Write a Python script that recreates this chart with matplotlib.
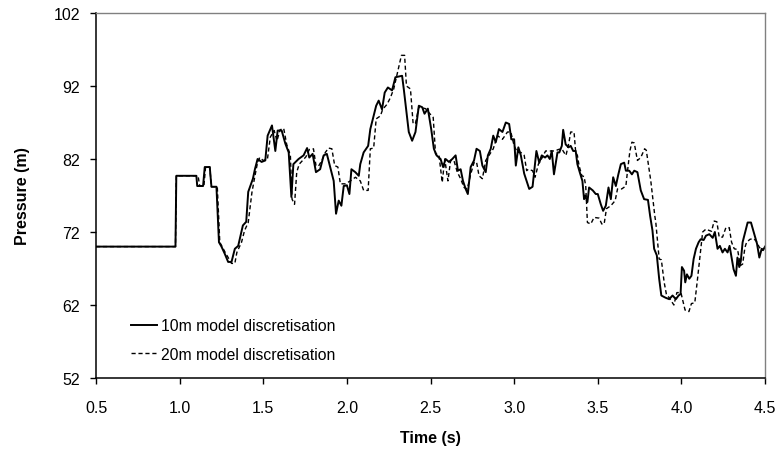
import matplotlib
matplotlib.use('Agg')
import matplotlib.pyplot as plt

plt.rcParams['font.family'] = ['Liberation Sans', 'DejaVu Sans']

# 10m model discretisation (solid)
t10 = [0.5, 0.975, 0.98, 1.10, 1.105, 1.14, 1.15, 1.18, 1.19, 1.22, 1.235, 1.25, 1.27, 1.29, 1.31,
       1.33, 1.35, 1.378, 1.398, 1.41, 1.438, 1.45, 1.466, 1.49, 1.512, 1.526, 1.552, 1.572, 1.586,
       1.61, 1.632, 1.652, 1.668, 1.68, 1.711, 1.741, 1.762, 1.775, 1.795, 1.815, 1.84, 1.861, 1.88,
       1.90, 1.921, 1.935, 1.951, 1.967, 1.981, 2.00, 2.015, 2.027, 2.05, 2.071, 2.08, 2.10, 2.127,
       2.14, 2.16, 2.175, 2.19, 2.21, 2.226, 2.245, 2.27, 2.29, 2.33, 2.34, 2.356, 2.37, 2.39, 2.41,
       2.43, 2.45, 2.464, 2.484, 2.504, 2.52, 2.536, 2.56, 2.575, 2.59, 2.61, 2.63, 2.65, 2.664, 2.68,
       2.694, 2.71, 2.723, 2.74, 2.76, 2.775, 2.795, 2.81, 2.83, 2.843, 2.86, 2.875, 2.89, 2.909, 2.93,
       2.95, 2.97, 2.983, 3.0, 3.01, 3.025, 3.04, 3.06, 3.09, 3.11, 3.118, 3.133, 3.15, 3.165, 3.185,
       3.199, 3.213, 3.225, 3.238, 3.259, 3.27, 3.285, 3.293, 3.308, 3.325, 3.338, 3.353, 3.368, 3.378,
       3.392, 3.408, 3.418, 3.425, 3.438, 3.448, 3.47, 3.488, 3.5, 3.518, 3.532, 3.548, 3.564, 3.578,
       3.592, 3.608, 3.623, 3.638, 3.658, 3.668, 3.688, 3.704, 3.718, 3.737, 3.757, 3.777, 3.80, 3.813,
       3.827, 3.837, 3.853, 3.867, 3.88, 3.905, 3.927, 3.947, 3.967, 3.983, 3.995, 4.003, 4.016, 4.023,
       4.033, 4.047, 4.06, 4.073, 4.087, 4.103, 4.115, 4.133, 4.147, 4.167, 4.187, 4.20, 4.216, 4.23,
       4.246, 4.26, 4.276, 4.288, 4.30, 4.312, 4.326, 4.335, 4.346, 4.355, 4.366, 4.386, 4.396, 4.416,
       4.432, 4.452, 4.466, 4.48, 4.488, 4.5]
p10 = [70.0, 70.0, 79.7, 79.7, 78.3, 78.3, 80.9, 80.9, 78.2, 78.2, 70.6, 70.0, 69.0, 67.9, 67.9,
       69.7, 70.1, 72.9, 73.4, 77.5, 79.3, 80.6, 82.0, 81.6, 81.8, 85.2, 86.6, 83.1, 85.9,
       85.9, 84.1, 82.9, 76.8, 81.3, 82.0, 82.5, 83.5, 82.2, 82.7, 80.2, 80.6, 82.5, 82.7,
       80.9, 79.0, 74.5, 76.3, 75.6, 78.3, 78.4, 77.2, 80.6, 80.2, 79.7, 81.3, 82.9, 83.8,
       86.1, 87.9, 89.3, 90.0, 88.8, 91.1, 91.8, 91.4, 93.2, 93.4, 91.6, 88.4, 85.7, 84.5, 85.7,
       89.3, 89.1, 88.2, 88.9, 86.1, 83.4, 82.5, 82.0, 80.9, 82.0, 81.6, 82.0, 82.5, 80.4, 80.6,
       79.0, 77.9, 77.2, 80.9, 81.8, 83.4, 83.1, 81.1, 80.2, 82.5, 83.4, 85.2, 84.3, 86.1, 85.7,
       87.0, 86.8, 84.7, 84.7, 81.1, 83.6, 82.5, 80.0, 77.9, 78.2, 79.9, 83.1, 81.5, 82.5, 82.2,
       82.5, 82.0, 83.1, 79.9, 82.9, 82.9, 83.8, 86.0, 84.0, 83.6, 83.8, 83.1, 83.1, 81.3,
       80.2, 79.0, 76.5, 77.0, 76.1, 78.1, 77.7, 77.2, 77.2, 75.8, 74.9, 75.6, 78.1, 76.5,
       79.5, 78.3, 79.9, 81.3, 81.5, 80.4, 80.4, 79.9, 80.4, 80.2, 77.7, 76.5, 76.4, 74.2,
       72.2, 69.7, 68.8, 65.6, 63.3, 63.0, 62.8, 63.3, 62.8, 63.3, 63.5, 67.2, 66.7, 65.1,
       66.2, 65.6, 66.0, 68.3, 69.7, 70.6, 71.0, 70.9, 71.5, 71.7, 71.2, 72.0, 69.7, 70.1,
       69.2, 69.7, 69.2, 70.1, 68.5, 66.9, 66.0, 68.5, 67.2, 68.0, 70.6, 72.4, 73.3, 73.3,
       72.0, 70.4, 68.5, 69.7, 69.5, 70.0]

# 20m model discretisation (dashed)
t20 = [0.5, 0.975, 0.98, 1.11, 1.12, 1.145, 1.155, 1.18, 1.19, 1.225, 1.24, 1.27, 1.31, 1.33,
       1.342, 1.37, 1.388, 1.41, 1.432, 1.447, 1.462, 1.478, 1.50, 1.525, 1.542, 1.565, 1.582,
       1.60, 1.622, 1.64, 1.662, 1.672, 1.687, 1.70, 1.715, 1.735, 1.755, 1.775, 1.80, 1.815,
       1.83, 1.85, 1.871, 1.89, 1.91, 1.927, 1.946, 1.961, 1.99, 2.021, 2.051, 2.08, 2.10, 2.127,
       2.14, 2.16, 2.175, 2.20, 2.214, 2.24, 2.26, 2.28, 2.296, 2.31, 2.326, 2.345, 2.356, 2.38,
       2.396, 2.41, 2.43, 2.47, 2.496, 2.516, 2.53, 2.55, 2.57, 2.585, 2.604, 2.62, 2.64, 2.66,
       2.68, 2.70, 2.72, 2.74, 2.76, 2.775, 2.79, 2.81, 2.83, 2.85, 2.875, 2.90, 2.93, 2.96, 2.98,
       3.0, 3.02, 3.04, 3.06, 3.075, 3.085, 3.11, 3.125, 3.145, 3.168, 3.188, 3.218, 3.244, 3.264,
       3.285, 3.298, 3.31, 3.328, 3.338, 3.358, 3.368, 3.378, 3.388, 3.405, 3.418, 3.428, 3.438,
       3.458, 3.478, 3.508, 3.524, 3.538, 3.552, 3.578, 3.604, 3.618, 3.643, 3.668, 3.678, 3.692,
       3.704, 3.718, 3.737, 3.757, 3.78, 3.79, 3.817, 3.841, 3.847, 3.867, 3.88, 3.897, 3.91, 3.927,
       3.955, 3.973, 3.997, 4.022, 4.045, 4.06, 4.08, 4.095, 4.11, 4.127, 4.147, 4.167, 4.18, 4.196,
       4.212, 4.226, 4.246, 4.266, 4.286, 4.30, 4.316, 4.336, 4.352, 4.366, 4.38, 4.39, 4.41, 4.43,
       4.446, 4.466, 4.48, 4.5]
p20 = [70.0, 70.0, 79.7, 79.7, 78.3, 78.3, 80.9, 80.9, 78.2, 78.2, 70.6, 69.3, 67.7, 67.7,
       69.2, 70.6, 72.2, 73.3, 77.4, 79.3, 81.1, 82.2, 81.8, 82.0, 85.0, 85.9, 84.5,
       86.0, 86.2, 84.0, 82.5, 76.5, 75.8, 80.2, 81.3, 81.8, 82.3, 83.3, 83.4, 81.1,
       81.0, 81.8, 82.9, 83.5, 83.4, 81.1, 80.9, 78.6, 78.6, 79.0, 79.5, 79.0, 77.7, 77.7,
       83.4, 83.5, 87.5, 87.9, 88.8, 89.5, 90.4, 91.6, 93.2, 94.6, 96.2, 96.2, 92.0, 91.6,
       86.8, 86.9, 89.1, 88.9, 88.2, 87.7, 82.7, 82.6, 78.8, 82.0, 79.0, 81.8, 81.8, 80.2,
       79.3, 78.1, 77.9, 79.9, 81.5, 81.6, 79.7, 79.3, 81.8, 82.5, 83.4, 85.2, 84.7, 85.7, 85.7,
       83.8, 82.9, 82.9, 82.5, 80.4, 80.6, 80.4, 79.5, 81.3, 82.2, 83.1, 83.1, 83.1, 83.3,
       83.4, 82.9, 82.5, 84.3, 85.7, 85.7, 82.9, 82.5, 81.1, 79.7, 79.6, 78.3, 73.3,
       73.1, 74.0, 73.9, 73.1, 73.1, 75.2, 75.6, 76.3, 77.9, 77.9, 78.3, 80.4, 83.1,
       84.3, 84.2, 81.8, 82.2, 83.4, 83.2, 79.0, 74.2, 73.3, 68.3, 68.2, 65.1, 63.5, 63.0,
       62.0, 63.7, 63.7, 61.3, 61.1, 62.2, 62.3, 65.3, 68.5, 72.0, 72.4, 72.2, 72.1, 73.5,
       73.4, 71.3, 71.3, 72.6, 72.6, 70.6, 69.7, 69.6, 67.4, 67.6, 69.9, 70.6, 71.0, 71.1,
       70.8, 69.9, 69.6, 69.8]

x_ticks = [0.5, 1.0, 1.5, 2.0, 2.5, 3.0, 3.5, 4.0, 4.5]
y_ticks = [52, 62, 72, 82, 92, 102]

fig = plt.figure(figsize=(7.82, 4.52), dpi=100)
ax = fig.add_axes([0.1228, 0.1615, 0.8555, 0.8075])

ax.plot(t10, p10, color='black', linewidth=1.4, label='10m model discretisation')
ax.plot(t20, p20, color='black', linewidth=1.0, dashes=(3, 2), label='20m model discretisation')

ax.set_xlim(0.5, 4.5)
ax.set_ylim(52, 102)
ax.set_xticks(x_ticks)
ax.set_xticklabels(['%.1f' % v for v in x_ticks])
ax.set_yticks(y_ticks)

ax.tick_params(axis='both', direction='out', length=4.5, width=1, labelsize=11.5, colors='black')
ax.tick_params(axis='x', pad=11)
ax.tick_params(axis='y', pad=7)

for side in ['left', 'bottom']:
    ax.spines[side].set_color('black')
    ax.spines[side].set_linewidth(1.1)
for side in ['top', 'right']:
    ax.spines[side].set_color('#808080')
    ax.spines[side].set_linewidth(1.0)

ax.set_xlabel('Time (s)', fontsize=11.5, fontweight='bold')
ax.set_ylabel('Pressure (m)', fontsize=11.5, fontweight='bold')
ax.xaxis.set_label_coords(0.5, -0.142)
ax.yaxis.set_label_coords(-0.098, 0.5)

ax.legend(loc='lower left', bbox_to_anchor=(0.052, 0.045), frameon=False, fontsize=11.3,
          handlelength=1.7, handletextpad=0.25, borderpad=0, borderaxespad=0, labelspacing=0.85)

fig.savefig('out.png', dpi=100)
